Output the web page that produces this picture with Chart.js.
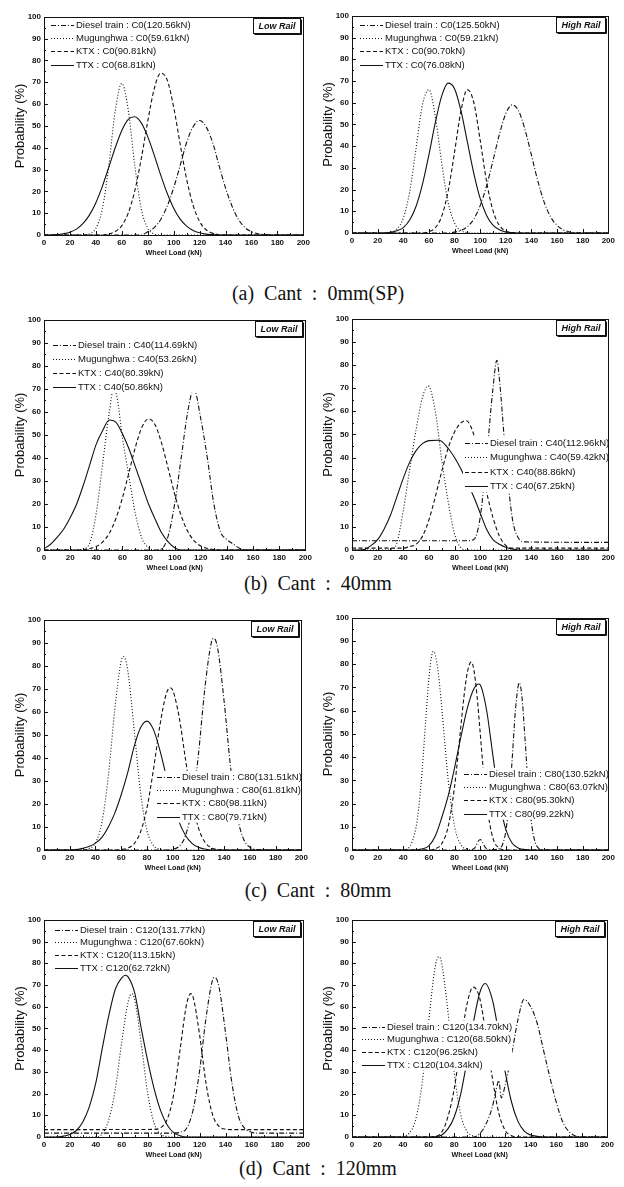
<!DOCTYPE html>
<html>
<head>
<meta charset="utf-8">
<script src="https://cdn.jsdelivr.net/npm/chart.js@4.4.1/dist/chart.umd.min.js"></script>
<style>
body { margin: 0; background: #fff; width: 624px; height: 1187px; position: relative; overflow: hidden; }
canvas { position: absolute; }
.cap { position: absolute; left: 8px; width: 620px; text-align: center; font: 20px 'Liberation Serif', 'Times New Roman', serif; line-height: 22px; white-space: pre; color: #111; }
</style>
</head>
<body>
<div class="cap" style="top:282px">(a)  Cant  :  0mm(SP)</div>
<div class="cap" style="top:572px">(b)  Cant  :  40mm</div>
<div class="cap" style="top:879px">(c)  Cant  :  80mm</div>
<div class="cap" style="top:1157px">(d)  Cant  :  120mm</div>

<canvas id="c0Low"></canvas>
<canvas id="c0High"></canvas>
<canvas id="c40Low"></canvas>
<canvas id="c40High"></canvas>
<canvas id="c80Low"></canvas>
<canvas id="c80High"></canvas>
<canvas id="c120Low"></canvas>
<canvas id="c120High"></canvas>

<script>
// axis ticks
const xTickStep = 20;
const yTickStep = 10;
const trains = ["Diesel train", "Mugunghwa", "KTX", "TTX"];

// ---- Cant 0mm ----
const c0LowLabels = ["Diesel train : C0(120.56kN)", "Mugunghwa : C0(59.61kN)", "KTX : C0(90.81kN)", "TTX : C0(68.81kN)"];
const c0LowDiesel = [[0,0],[75,0],[80,1.5],[85,3.4],[90,7.1],[95,13.2],[100,21.6],[105,31.8],[110,42.5],[115,49.6],[120,52.5],[125,49.6],[130,42.5],[135,31.8],[140,21.6],[145,13.2],[150,7.1],[155,3.4],[160,1.5],[165,0.6],[170,0.2],[175,0],[200,0]];
const c0LowMug = [[0,0],[30,0],[35,0.5],[40,3.1],[45,12],[50,31.8],[55,57.2],[60,69.5],[65,57.2],[70,31.8],[75,12],[80,3.1],[85,0.5],[90,0],[200,0]];
const c0LowKtx = [[0,0],[45,0],[50,0.5],[55,1.6],[60,4.3],[65,10.1],[70,20.2],[75,34.9],[80,52.1],[85,67],[90,74.2],[95,71.1],[100,58.6],[105,41.7],[110,25.6],[115,13.6],[120,6.2],[125,2.4],[130,0.8],[135,0.2],[140,0],[200,0]];
const c0LowTtx = [[0,0],[5,0],[10,0.2],[15,0.6],[20,1.3],[25,2.7],[30,5.2],[35,9.1],[40,14.8],[45,22.3],[50,31.1],[55,40.1],[60,47.9],[65,53],[70,54.2],[75,51.4],[80,45.1],[85,36.6],[90,27.5],[95,19.1],[100,12.3],[105,7.3],[110,4.1],[115,2.1],[120,1],[125,0.4],[130,0.2],[135,0],[200,0]];

const c0HighLabels = ["Diesel train : C0(125.50kN)", "Mugunghwa : C0(59.21kN)", "KTX : C0(90.70kN)", "TTX : C0(76.08kN)"];
const c0HighDiesel = [[0,0],[75,0],[80,0.4],[85,1.2],[90,2.9],[95,6.4],[100,12.6],[105,21.7],[110,33.3],[115,45.4],[120,54.9],[125,59],[130,56.2],[135,47.6],[140,35.8],[145,23.9],[150,14.1],[155,7.4],[160,3.5],[165,1.4],[170,0.5],[175,0],[200,0]];
const c0HighMug = [[0,0],[25,0],[30,0.3],[35,1.8],[40,6.8],[45,19],[50,39.1],[55,59.2],[60,66],[65,53.7],[70,32.1],[75,14.1],[80,4.6],[85,1.1],[90,0.2],[95,0],[200,0]];
const c0HighKtx = [[0,0],[55,0],[60,0.6],[65,2.4],[70,7.7],[75,19.2],[80,37.2],[85,56.1],[90,66],[95,60.2],[100,42.8],[105,23.7],[110,10.3],[115,3.5],[120,0.9],[125,0.2],[130,0],[200,0]];
const c0HighTtx = [[0,0],[25,0],[30,0.3],[35,1],[40,2.5],[45,6],[50,12.3],[55,22.5],[60,36],[65,50.8],[70,63.1],[75,69],[80,66.4],[85,56.3],[90,42],[95,27.6],[100,15.9],[105,8.1],[110,3.6],[115,1.5],[120,0.5],[125,0.2],[130,0],[200,0]];

// ---- Cant 40mm ----
const c40LowLabels = ["Diesel train : C40(114.69kN)", "Mugunghwa : C40(53.26kN)", "KTX : C40(80.39kN)", "TTX : C40(50.86kN)"];
const c40LowDiesel = [[0,0],[85,0],[90,0.5],[95,6],[100,20],[105,40],[110,60],[114.7,70],[120,57],[125,40],[130,20],[135,8],[140,4.5],[145,2.5],[150,0.7],[155,0],[200,0]];
const c40LowMug = [[0,0],[25,0],[30,0.5],[35,3],[40,16],[45,38],[50,60],[53.3,70],[56,66],[60,49],[65,32],[70,15.5],[75,5],[80,1],[85,0],[200,0]];
const c40LowKtx = [[0,0],[25,0],[30,0.2],[35,0.6],[40,1.5],[45,3.5],[50,7.3],[55,13.6],[60,22.6],[65,33.6],[70,44.8],[75,53.4],[80,57],[85,54.4],[90,46.4],[95,35.5],[100,24.3],[105,14.9],[110,8.1],[115,4],[120,1.7],[125,0.7],[130,0.2],[135,0],[200,0]];
const c40LowTtx = [[0,0.5],[5,2.5],[10,5.5],[15,9],[20,14],[25,20],[30,28],[35,37],[40,46],[45,52],[50,56.5],[55,55.5],[60,50.5],[65,44],[70,36],[75,28],[80,20],[85,13.5],[90,7.5],[95,3.5],[100,1],[105,0],[200,0]];

const c40HighLabels = ["Diesel train : C40(112.96kN)", "Mugunghwa : C40(59.42kN)", "KTX : C40(88.86kN)", "TTX : C40(67.25kN)"];
const c40HighDiesel = [[0,4],[90,4],[95,4.5],[100,14],[105,40],[110,70],[113,82],[115,74],[120,40],[125,14],[130,5],[135,3.5],[200,3.3]];
const c40HighMug = [[0,0],[30,0],[35,3],[40,17],[45,35],[50,52],[55,66],[59.4,71],[65,60],[70,39],[75,21],[80,7],[85,1],[90,0],[200,0]];
const c40HighKtx = [[0,0.8],[40,0.8],[45,1.5],[50,2.5],[55,6],[60,13],[65,23],[70,34],[75,44],[80,51],[85,55],[88.9,56],[95,50],[100,38],[105,25],[110,14],[115,6],[120,2],[125,0.8],[200,0.8]];
const c40HighTtx = [[0,0],[5,0],[10,0.3],[15,2],[20,4.5],[25,9],[30,15],[35,23],[40,31],[45,38],[50,43],[55,46],[60,47.3],[67,47.5],[70,47],[75,44],[80,40],[85,35],[90,29],[95,23],[100,16],[105,9],[110,4.5],[115,2.5],[120,1.2],[125,0.5],[130,0],[200,0]];

// ---- Cant 80mm ----
const c80LowLabels = ["Diesel train : C80(131.51kN)", "Mugunghwa : C80(61.81kN)", "KTX : C80(98.11kN)", "TTX : C80(79.71kN)"];
const c80LowDiesel = [[0,0],[95,0],[100,0.3],[105,1.6],[110,6.3],[115,18.5],[120,41.3],[125,70.1],[130,90],[132,92],[135,87.5],[140,64.5],[145,36],[150,15.2],[155,4.9],[160,1.2],[165,0.2],[170,0],[200,0]];
const c80LowMug = [[0,0],[30,0],[35,0.6],[40,3.1],[45,11.9],[50,32.1],[55,61],[60,82.1],[61.8,84],[65,78.3],[70,52.8],[75,25.2],[80,8.5],[85,2],[90,0.4],[95,0],[200,0]];
const c80LowKtx = [[0,0],[55,0],[60,0.2],[65,0.8],[70,2.7],[75,7.8],[80,18.2],[85,34.7],[90,53.8],[95,67.8],[98.1,70.5],[100,69.5],[105,57.9],[110,39.3],[115,21.7],[120,9.7],[125,3.5],[130,1],[135,0.2],[140,0],[200,0]];
const c80LowTtx = [[0,0],[20,0],[25,0.2],[30,0.7],[35,1.5],[40,3],[45,5.5],[50,10],[55,16],[60,24],[65,33.5],[70,44.8],[75,53.1],[80,56],[85,52.4],[90,43.5],[95,32.1],[100,21],[105,12.2],[110,6.3],[115,2.9],[120,1.2],[125,0.4],[130,0],[200,0]];

const c80HighLabels = ["Diesel train : C80(130.52kN)", "Mugunghwa : C80(63.07kN)", "KTX : C80(95.30kN)", "TTX : C80(99.22kN)"];
const c80HighDiesel = [[0,0],[90,0],[95,0.5],[100,4.5],[105,0.5],[110,0.2],[115,0.6],[117.5,2.5],[120,8],[122.5,20],[125,39.3],[127.5,60.1],[130,71.6],[130.5,72],[132.5,66.5],[135,48],[137.5,27],[140,11.8],[142.5,4],[145,1.1],[150,0],[200,0]];
const c80HighMug = [[0,0],[35,0],[40,0.1],[45,1.5],[50,9.9],[52.5,20.4],[55,36.4],[57.5,55.8],[60,74],[62.5,84.5],[63.5,85.5],[65,84],[67.5,75.4],[70,61.5],[72.5,45.4],[75,30.5],[80,10.2],[85,2.3],[90,0.4],[95,0],[200,0]];
const c80HighKtx = [[0,0],[60,0],[65,0.5],[70,2.7],[75,10],[80,27.2],[82.5,39.7],[85,53.6],[87.5,66.7],[90,76.5],[93,81],[95,77.9],[97.5,66.7],[100,50.6],[102.5,34.1],[105,20.3],[110,5],[115,0.8],[120,0],[200,0]];
const c80HighTtx = [[0,0],[50,0],[55,0.5],[60,1.8],[65,6],[70,13.9],[75,23.2],[80,35.3],[85,48.8],[90,61.1],[95,69.3],[99,71.5],[100,71.2],[105,60.3],[110,40.4],[115,21.4],[120,8.9],[125,2.9],[130,0.8],[135,0.2],[140,0],[200,0]];

// ---- Cant 120mm ----
const c120LowLabels = ["Diesel train : C120(131.77kN)", "Mugunghwa : C120(67.60kN)", "KTX : C120(113.15kN)", "TTX : C120(62.72kN)"];
const c120LowDiesel = [[0,1.8],[100,1.8],[105,2.2],[110,4],[115,12.5],[120,30.5],[125,55],[130,72.3],[131.8,73.5],[135,69],[140,48],[145,24.5],[150,9.5],[155,3.8],[160,2.2],[165,1.8],[200,1.8]];
const c120LowMug = [[0,0],[40,0],[45,1.5],[50,8],[55,22],[60,44],[65,62.6],[67.6,66],[70,63.1],[75,43],[80,19.9],[85,6.2],[90,1.3],[95,0.2],[100,0],[200,0]];
const c120LowKtx = [[0,3.4],[85,3.5],[90,4.3],[95,8.1],[100,19.5],[105,40.5],[110,61.2],[113.2,66],[115,64.4],[120,47.1],[125,24.5],[130,10.3],[135,4.9],[140,3.6],[145,3.4],[200,3.4]];
const c120LowTtx = [[0,0],[10,0],[15,0.4],[20,1.2],[25,3],[30,7],[35,14],[40,25],[45,41],[50,56],[55,68],[60,73.3],[62.7,74.5],[65,73.6],[70,66.2],[75,50],[80,35],[85,22],[90,12],[95,5.5],[100,2],[105,0.6],[110,0],[200,0]];

const c120HighLabels = ["Diesel train : C120(134.70kN)", "Mugunghwa : C120(68.50kN)", "KTX : C120(96.25kN)", "TTX : C120(104.34kN)"];
const c120HighDiesel = [[0,0],[95,0],[100,1.5],[105,6],[110,14],[113,22],[115,26],[117,18],[120,24],[125,38],[130,54],[134.7,63.3],[140,60],[145,52.5],[150,40],[155,27.5],[160,16],[165,7],[170,2.5],[175,0.5],[180,0],[200,0]];
const c120HighMug = [[0,0],[35,0],[40,0.3],[45,1.9],[50,8.3],[55,25],[60,52.7],[65,77.9],[68,83],[70,80.7],[75,58.6],[80,29.9],[85,10.7],[90,2.7],[95,0.5],[100,0],[200,0]];
const c120HighKtx = [[0,0],[60,0],[65,0.3],[70,2],[75,9],[80,22],[85,42],[90,61],[95,69],[100,64],[105,47],[110,27],[115,11],[120,3],[125,0.6],[130,0],[200,0]];
const c120HighTtx = [[0,0],[60,0],[65,0.1],[70,0.8],[75,3.6],[80,9.1],[85,19.4],[90,34.8],[95,52.4],[100,66.3],[104.3,70.7],[110,63.1],[115,47.5],[120,30],[125,16],[130,7.2],[135,2.7],[140,0.9],[145,0.3],[150,0],[200,0]];

// line styles of the four trains
const dashes = [[5, 2, 1, 2], [1, 2], [4, 2.5], []];
const ink = "#111";
const sans = "'Liberation Sans', Arial, sans-serif";

// frame, inner ticks, legend and rail label
const deco = {
  id: "deco",
  afterDatasetsDraw(chart, args, o) {
    const ctx = chart.ctx, a = chart.chartArea;
    const xs = chart.scales.x, ys = chart.scales.y;
    ctx.save();
    ctx.strokeStyle = ink;
    ctx.lineWidth = 1;
    // legend
    const lx = a.left + o.lx, ly = a.top + o.ly, sp = o.sp;
    ctx.font = "9.5px " + sans;
    let tw = 0;
    o.labels.forEach(t => { tw = Math.max(tw, ctx.measureText(t).width); });
    ctx.fillStyle = "#fff";
    ctx.fillRect(lx - 2, ly - 6, 27 + tw, sp * 3 + 12);
    o.labels.forEach((t, i) => {
      const y = Math.round(ly + i * sp) + 0.5;
      ctx.setLineDash(dashes[i]);
      ctx.beginPath(); ctx.moveTo(lx, y); ctx.lineTo(lx + 23, y); ctx.stroke();
      ctx.setLineDash([]);
      ctx.fillStyle = ink;
      ctx.textBaseline = "middle";
      ctx.fillText(t, lx + 25, y);
    });
    // rail label box
    ctx.font = "italic bold 9px " + sans;
    const rw = ctx.measureText(o.rail).width + 10;
    const bx = Math.round(a.right - 3 - rw) + 0.5, by = Math.round(a.top + 1.5) + 0.5;
    ctx.fillStyle = "#fff";
    ctx.fillRect(bx, by, rw, 15);
    ctx.strokeRect(bx, by, rw, 15);
    ctx.beginPath(); ctx.moveTo(bx + 1, by + 16); ctx.lineTo(bx + rw + 1, by + 16); ctx.lineTo(bx + rw + 1, by + 1); ctx.stroke();
    ctx.fillStyle = ink;
    ctx.textAlign = "center";
    ctx.fillText(o.rail, bx + rw / 2, by + 8);
    // frame
    ctx.strokeRect(Math.round(a.left) + 0.5, Math.round(a.top) + 0.5, Math.round(a.right - a.left), Math.round(a.bottom - a.top));
    // inward ticks
    ctx.beginPath();
    for (let v = 0; v <= 200; v += 10) {
      const px = Math.round(xs.getPixelForValue(v)) + 0.5;
      ctx.moveTo(px, a.bottom); ctx.lineTo(px, a.bottom - (v % 20 === 0 ? 4 : 2));
    }
    for (let v = 0; v <= 100; v += 5) {
      const py = Math.round(ys.getPixelForValue(v)) + 0.5;
      ctx.moveTo(a.left, py); ctx.lineTo(a.left + (v % 10 === 0 ? 4 : 2), py);
    }
    ctx.stroke();
    ctx.restore();
  }
};

// plot boxes on the page: l, t, r, b ; legend offsets from plot corner
const panels = [
  { id: "c0Low",   box: [44, 15, 305, 235],   series: [c0LowDiesel, c0LowMug, c0LowKtx, c0LowTtx],         labels: c0LowLabels,   rail: "Low Rail",  lx: 7,   ly: 8,   sp: 13.3 },
  { id: "c0High",  box: [352, 14, 610, 233],  series: [c0HighDiesel, c0HighMug, c0HighKtx, c0HighTtx],     labels: c0HighLabels,  rail: "High Rail", lx: 8,   ly: 9,   sp: 13.3 },
  { id: "c40Low",  box: [44, 318, 307, 550],  series: [c40LowDiesel, c40LowMug, c40LowKtx, c40LowTtx],     labels: c40LowLabels,  rail: "Low Rail",  lx: 9,   ly: 25,  sp: 14 },
  { id: "c40High", box: [352, 317, 610, 550], series: [c40HighDiesel, c40HighMug, c40HighKtx, c40HighTtx], labels: c40HighLabels, rail: "High Rail", lx: 113, ly: 124, sp: 14.5 },
  { id: "c80Low",  box: [44, 618, 303, 850],  series: [c80LowDiesel, c80LowMug, c80LowKtx, c80LowTtx],     labels: c80LowLabels,  rail: "Low Rail",  lx: 113, ly: 157, sp: 13.3 },
  { id: "c80High", box: [352, 616, 610, 850], series: [c80HighDiesel, c80HighMug, c80HighKtx, c80HighTtx], labels: c80HighLabels, rail: "High Rail", lx: 112, ly: 156, sp: 13.3 },
  { id: "c120Low", box: [44, 918, 305, 1137], series: [c120LowDiesel, c120LowMug, c120LowKtx, c120LowTtx], labels: c120LowLabels, rail: "Low Rail",  lx: 11,  ly: 10,  sp: 12.6 },
  { id: "c120High",box: [352, 918, 609, 1137],series: [c120HighDiesel, c120HighMug, c120HighKtx, c120HighTtx], labels: c120HighLabels, rail: "High Rail", lx: 10, ly: 107, sp: 12.6 }
];

panels.forEach(p => {
  const [l, t, r, b] = p.box;
  const cv = document.getElementById(p.id);
  const W = (r - l) + 44 + 8, H = (b - t) + 6 + 28;
  cv.width = W; cv.height = H;
  cv.style.left = (l - 44) + "px";
  cv.style.top = (t - 6) + "px";
  cv.style.width = W + "px"; cv.style.height = H + "px";

  new Chart(cv, {
    type: "line",
    data: {
      datasets: p.series.map((s, i) => ({
        label: trains[i],
        data: s,
        borderColor: ink,
        borderWidth: 1.1,
        borderDash: dashes[i],
        pointRadius: 0,
        fill: false,
        cubicInterpolationMode: "monotone"
      }))
    },
    options: {
      responsive: false,
      animation: false,
      devicePixelRatio: 1,
      layout: { padding: { left: 0, top: 6, right: 8, bottom: 0 } },
      plugins: {
        legend: { display: false },
        tooltip: { enabled: false },
        deco: { labels: p.labels, rail: p.rail, lx: p.lx, ly: p.ly, sp: p.sp }
      },
      scales: {
        x: {
          type: "linear", min: 0, max: 200,
          grid: { display: false, drawTicks: false },
          border: { display: false },
          ticks: { stepSize: xTickStep, color: ink, padding: 3, maxRotation: 0, autoSkip: false, font: { family: sans, size: 8, weight: "bold" } },
          title: { display: true, text: "Wheel Load (kN)", color: ink, font: { family: sans, size: 7.2, weight: "bold" }, padding: { top: 0, bottom: 5.7 } },
          afterFit(s) { s.height = 28; }
        },
        y: {
          min: 0, max: 100,
          grid: { display: false, drawTicks: false },
          border: { display: false },
          ticks: { stepSize: yTickStep, color: ink, padding: 3, font: { family: sans, size: 8, weight: "bold" } },
          title: { display: true, text: "Probability (%)", color: ink, font: { family: sans, size: 13 }, padding: { top: 13, bottom: 0 } },
          afterFit(s) { s.width = 44; }
        }
      }
    },
    plugins: [deco]
  });
});
</script>
</body>
</html>
